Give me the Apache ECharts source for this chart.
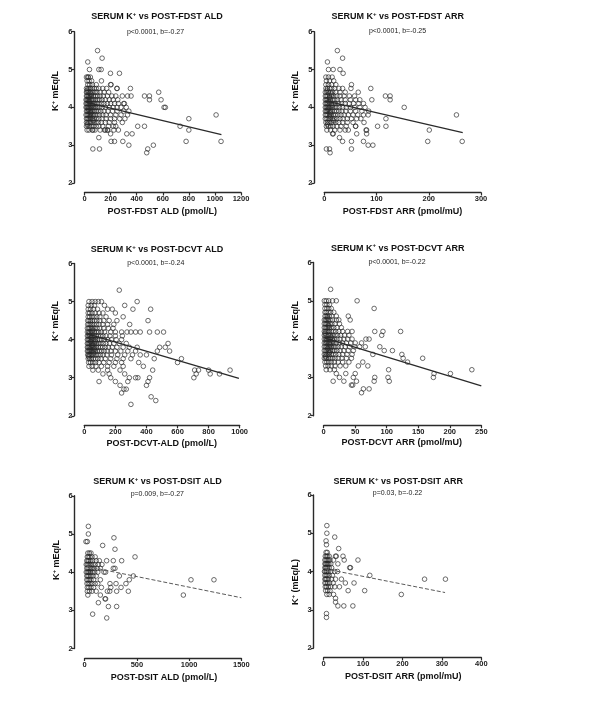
<!DOCTYPE html>
<html><head><meta charset="utf-8">
<script src="https://cdn.jsdelivr.net/npm/echarts@6/dist/echarts.min.js"></script>
<style>html,body{margin:0;padding:0;background:#fff}#c{width:598px;height:705px}</style>
</head><body><div id="c"></div>
<script>
// ---------- DATA ----------
// Each row: [serum K+, [x values at that K+]]
const fdstAldRows = [
  [4.8,[15,25,30,45]],
  [4.7,[20,35,55,130]],
  [4.6,[25,40,60,90,200]],
  [4.5,[15,25,35,45,60,75,90,110,140,170,250]],
  [4.4,[15,20,30,40,50,65,80,95,120,150,185]],
  [4.3,[15,20,28,35,45,55,70,85,100,120,145,175,210,240,290,330]],
  [4.2,[12,18,25,32,40,50,60,72,85,100,115,135,160,190,220,255]],
  [4.1,[12,18,25,32,40,48,58,68,80,95,110,130,150,175,200,230,260,300]],
  [4.0,[12,18,24,30,38,46,55,65,75,88,100,115,135,160,190,220,250,280,320]],
  [3.9,[15,22,30,38,45,55,65,78,90,105,125,150,180,215,250,300,340]],
  [3.8,[12,20,28,36,45,55,68,80,95,115,140,165,200,240,280,330]],
  [3.7,[15,22,30,40,50,62,75,90,110,135,165,200,230,270,310]],
  [3.6,[15,25,35,45,58,72,88,105,130,160,190,230,290]],
  [3.5,[15,28,40,55,70,90,110,140,185,220,240]],
  [3.4,[20,35,60,80,120,160,175,225,260]]
];
const fdstAldOut = [[100,5.5],[135,5.3],[25,5.2],[38,5.0],[110,5.0],[128,5.0],[199,4.9],[268,4.9],[204,4.6],[248,4.5],[352,4.5],[357,4.3],[460,4.3],[498,4.3],[498,4.2],[569,4.4],[587,4.2],[610,4.0],[620,4.0],[306,4.1],[408,3.5],[460,3.5],[324,3.3],[365,3.3],[204,3.1],[230,3.1],[294,3.1],[340,3.0],[528,3.0],[485,2.9],[477,2.8],[64,2.9],[115,2.9],[110,3.2],[779,3.1],[800,3.7],[800,3.4],[733,3.5],[1009,3.8],[1047,3.1],[64,3.4],[153,3.4],[179,3.4],[200,3.3],[20,4.45],[35,4.15],[28,3.95],[42,3.75],[22,3.55],[52,4.35],[60,4.05],[48,3.85],[70,3.65],[33,4.25]];

const fdstArrRows = [
  [4.8,[3,8,15]],
  [4.7,[4,10,18]],
  [4.6,[3,8,14,22]],
  [4.5,[3,6,10,14,20,28,35]],
  [4.4,[2,5,8,12,16,22,30,40]],
  [4.3,[2,4,7,10,14,18,24,30,38,48,58]],
  [4.2,[2,4,6,9,12,16,20,25,32,40,50,60]],
  [4.1,[2,4,6,8,11,14,18,22,27,33,40,48,56,66,75]],
  [4.0,[2,4,6,8,10,13,16,20,24,29,35,42,50,58,68,78]],
  [3.9,[2,4,6,9,12,15,19,23,28,34,41,50,60,72,85]],
  [3.8,[2,4,7,10,13,17,21,26,32,38,46,55,64,75,84]],
  [3.7,[2,5,8,11,15,19,24,30,36,44,52,62,70]],
  [3.6,[3,6,9,13,17,22,28,35,44,55]],
  [3.5,[4,8,12,17,24,32,42,60]],
  [3.4,[5,12,20,30,40,80]],
  [3.3,[16,62]]
];
const fdstArrOut = [[25,5.5],[35,5.3],[6,5.2],[8,5.0],[17,5.0],[30,5.0],[36,4.9],[52,4.6],[51,4.5],[89,4.5],[65,4.4],[68,4.2],[91,4.2],[117,4.3],[126,4.3],[126,4.2],[153,4.0],[102,3.5],[118,3.5],[118,3.7],[253,3.8],[201,3.4],[198,3.1],[264,3.1],[52,3.1],[75,3.1],[35,3.1],[29,3.2],[84,3.0],[93,3.0],[52,2.9],[4,2.9],[10,2.9],[11,2.8],[81,3.3],[81,3.4],[17,3.3],[46,3.4],[60,3.5],[76,3.6],[5,4.45],[9,4.15],[7,3.95],[11,3.75],[6,3.55],[14,4.35],[15,4.05],[12,3.85],[18,3.65],[10,4.25]];

const dcvtAldRows = [
  [5.0,[30,50,70,90,110]],
  [4.9,[25,45,65,130]],
  [4.8,[25,40,60,85,150,180]],
  [4.7,[25,35,50,70,95,120,200]],
  [4.6,[25,35,48,62,80,100,140]],
  [4.5,[22,30,40,52,65,80,100,125,160,210]],
  [4.4,[22,30,40,50,62,78,95,120,150,190]],
  [4.3,[20,28,36,45,55,68,82,100,125,155,185]],
  [4.2,[20,28,36,45,55,66,78,92,110,130,170,200,240,275,300,330,360,420,470,510]],
  [4.1,[20,26,33,40,48,57,67,78,90,105,120,140,165,200,245]],
  [4.0,[20,26,32,39,46,54,63,73,85,98,112,130,150,175,205,240]],
  [3.9,[20,26,32,38,45,52,60,69,80,92,106,122,140,162,190,225,270]],
  [3.8,[20,25,31,37,44,51,59,68,78,90,103,118,135,155,180,210,250,290,340]],
  [3.7,[20,25,31,37,44,52,61,71,83,96,111,128,148,172,200,235,280,330]],
  [3.6,[22,28,35,43,52,62,74,88,104,122,145,175,215,260,310,360]],
  [3.5,[25,35,45,58,72,88,108,135,170,210,250,300]],
  [3.4,[28,40,55,72,95,125,160,200,240]],
  [3.3,[30,50,75,110,150,190,250]],
  [3.2,[55,90,150,230]],
  [3.1,[120,160,260]],
  [3.0,[170,290]]
];
const dcvtAldOut = [[225,5.3],[340,5.0],[260,4.9],[313,4.8],[427,4.8],[250,4.6],[410,4.5],[292,4.4],[539,3.9],[485,3.8],[521,3.8],[549,3.7],[470,3.7],[625,3.5],[600,3.4],[710,3.2],[735,3.2],[720,3.1],[705,3.0],[800,3.2],[810,3.1],[870,3.1],[938,3.2],[240,2.6],[255,2.7],[270,2.7],[300,2.3],[430,2.5],[460,2.4],[400,2.8],[410,2.9],[200,2.9],[230,2.8],[95,2.9],[330,3.0],[345,3.0],[420,3.0],[280,2.9],[380,3.3],[440,3.2],[350,3.4],[400,3.6],[450,3.5],[30,4.15],[40,3.95],[35,3.75],[50,3.85],[45,4.05],[60,3.65],[28,3.55],[55,4.25],[70,3.95],[65,3.75]];

const dcvtArrRows = [
  [5.0,[1,4,8,14]],
  [4.9,[2,5,9]],
  [4.8,[2,5,8,12]],
  [4.7,[2,4,7,11,16]],
  [4.6,[2,4,6,9,13,20]],
  [4.5,[1,3,5,7,10,14,20]],
  [4.4,[1,3,5,7,10,13,18,25]],
  [4.3,[1,3,5,7,9,12,16,21,28]],
  [4.2,[1,3,5,7,9,12,15,19,24,30,38,45]],
  [4.1,[1,3,5,7,9,11,14,18,22,27,33,40]],
  [4.0,[1,3,5,7,9,11,14,17,21,26,32,38,45]],
  [3.9,[1,3,5,7,9,11,13,16,20,25,30,36,43,50]],
  [3.8,[1,3,5,7,9,11,13,16,19,23,28,34,41,49,57]],
  [3.7,[1,3,5,7,9,11,14,17,21,26,32,39,47]],
  [3.6,[1,3,5,7,9,12,15,19,24,30,37,45]],
  [3.5,[1,3,5,8,11,14,18,23,29,36,44]],
  [3.4,[2,5,8,12,17,23,30,40]],
  [3.3,[3,7,12,18,26,35]],
  [3.2,[4,10,17]]
];
const dcvtArrOut = [[11,5.3],[53,5.0],[20,5.0],[80,4.8],[39,4.6],[42,4.5],[24,4.5],[81,4.2],[94,4.2],[92,4.1],[122,4.2],[67,4.0],[72,4.0],[60,3.9],[89,3.8],[96,3.7],[109,3.7],[124,3.6],[126,3.5],[133,3.4],[157,3.5],[175,3.1],[174,3.0],[201,3.1],[235,3.2],[103,3.2],[104,2.9],[102,3.0],[81,3.0],[80,2.9],[47,3.0],[50,3.1],[32,2.9],[15,2.9],[44,2.8],[46,2.8],[60,2.6],[63,2.7],[72,2.7],[55,3.3],[62,3.4],[20,3.1],[25,3.0],[52,2.9],[35,3.1],[78,3.6],[66,3.8],[70,3.3],[2,4.15],[4,3.95],[6,3.75],[8,4.35],[3,3.55],[10,3.85],[12,4.05],[6,4.55],[9,3.65],[15,3.95]];

const dsitAldRows = [
  [4.5,[30,45,60]],
  [4.4,[25,35,50,70,100]],
  [4.3,[20,30,40,55,75,110,140]],
  [4.2,[15,25,35,48,62,80,100,130,165]],
  [4.1,[20,30,42,55,70,90,120,150]],
  [4.0,[15,25,35,45,58,75,95,125,185]],
  [3.9,[20,30,42,58,80,110]],
  [3.8,[20,32,45,60,85,150]],
  [3.7,[22,35,50,70,100,125]],
  [3.6,[25,40,60,85,160]],
  [3.5,[25,45,70,110]],
  [3.4,[30,150]],
  [3.3,[200]]
];
const dsitAldOut = [[35,5.2],[35,5.0],[12,4.8],[25,4.8],[280,4.9],[172,4.7],[290,4.6],[482,4.4],[210,4.3],[274,4.3],[354,4.3],[274,4.1],[290,4.1],[332,3.9],[466,3.9],[1018,3.8],[1238,3.8],[427,3.8],[242,3.7],[300,3.7],[395,3.7],[217,3.5],[306,3.5],[418,3.5],[945,3.4],[195,3.3],[131,3.2],[227,3.1],[306,3.1],[76,2.9],[211,2.8],[250,3.6],[348,3.6],[200,4.0],[240,3.5]];

const dsitArrRows = [
  [4.5,[6,9]],
  [4.4,[4,7,10,14,30]],
  [4.3,[3,6,9,12,16,25]],
  [4.2,[3,5,8,10,13,18,36]],
  [4.1,[3,5,7,10,14,20]],
  [4.0,[2,4,7,9,12,18,28,35]],
  [3.9,[3,6,9,14,22]],
  [3.8,[3,5,8,12,20,30]],
  [3.7,[3,6,10,15,24]],
  [3.6,[4,7,12,18,28]],
  [3.5,[5,10,16]],
  [3.4,[8,14]]
];
const dsitArrOut = [[8,5.2],[8,5.0],[28,4.9],[6,4.8],[7,4.7],[38,4.6],[32,4.4],[49,4.4],[52,4.3],[87,4.3],[66,4.1],[68,4.1],[117,3.9],[77,3.7],[62,3.5],[104,3.5],[197,3.4],[256,3.8],[309,3.8],[36,3.1],[51,3.1],[74,3.1],[30,3.3],[30,3.2],[7,2.9],[7,2.8],[55,3.7],[45,3.8],[40,3.6],[25,3.4]];

// regression line end points [x, K+]
const fdstAldFit = [[15,4.13],[1050,3.28]];
const fdstArrFit = [[2,4.17],[265,3.33]];
const dcvtAldFit = [[20,4.15],[995,2.98]];
const dcvtArrFit = [[1,4.03],[250,2.78]];
const dsitAldFit = [[20,4.15],[1500,3.33]];
const dsitArrFit = [[3,4.07],[308,3.45]];

const panelNames = ['POST-FDST ALD','POST-FDST ARR','POST-DCVT ALD','POST-DCVT ARR','POST-DSIT ALD','POST-DSIT ARR'];
const statTexts = ['p<0.0001, b=-0.27','p<0.0001, b=-0.25','p<0.0001, b=-0.24','p<0.0001, b=-0.22','p=0.009, b=-0.27','p=0.03, b=-0.22'];
const xNames = ['POST-FDST ALD (pmol/L)','POST-FDST ARR (pmol/mU)','POST-DCVT-ALD (pmol/L)','POST-DCVT ARR (pmol/mU)','POST-DSIT ALD (pmol/L)','POST-DSIT ARR (pmol/mU)'];
const yUnits = ['mEq/L','mEq/L','mEq/L','mEq/L','mEq/L','(mEq/L)'];
const xMaxes = [1200,300,1000,250,1500,400];
const xIntervals = [200,100,200,50,500,100];
const yTicks = [2,3,4,5,6];

// ---------- LAYOUT / STYLE ----------
const FONT = "'Liberation Sans', Arial, Helvetica, sans-serif";
const grids = [
  {left:84.5, top:31.7, width:156.5, height:151.3},
  {left:324.3, top:31.7, width:156.7, height:151.3},
  {left:84.3, top:263.5, width:155.4, height:152.3},
  {left:323.7, top:262.5, width:157.6, height:153.2},
  {left:84.7, top:495.8, width:156.6, height:152.7},
  {left:323.7, top:495, width:157.6, height:153}
];
const titlePos = [[157,16.7],[397.8,16.7],[157,250],[397.8,248.3],[157.5,482],[398.3,482]];
const statPos = [[155.5,31.7],[397.5,30.7],[155.8,263.3],[397,262.3],[157.3,494],[397.5,493.3]];
const xNamePos = [[162.3,212],[402.5,212],[161.7,443.3],[401.7,443],[164,677.3],[403.3,677]];
const yNamePos = [[55.7,91],[295.3,91],[55.7,321],[295.3,321],[56.7,560],[295.3,582]];

const rowsList = [fdstAldRows,fdstArrRows,dcvtAldRows,dcvtArrRows,dsitAldRows,dsitArrRows];
const outList = [fdstAldOut,fdstArrOut,dcvtAldOut,dcvtArrOut,dsitAldOut,dsitArrOut];
const fitList = [fdstAldFit,fdstArrFit,dcvtAldFit,dcvtArrFit,dsitAldFit,dsitArrFit];

const AX = '#2a2a2a';
const xAxes = [], yAxes = [], series = [], graphics = [];
for (let i = 0; i < 6; i++) {
  xAxes.push({
    gridIndex:i, type:'value', min:0, max:xMaxes[i], interval:xIntervals[i],
    offset:9.5,
    axisLine:{show:true, onZero:false, lineStyle:{color:AX, width:1.4}},
    axisTick:{show:true, inside:false, length:3, lineStyle:{color:AX, width:1.2}},
    axisLabel:{fontSize:7.5, fontWeight:'bold', color:'#222', margin:2.5, fontFamily:FONT, formatter:v => String(v)},
    splitLine:{show:false}
  });
  yAxes.push({
    gridIndex:i, type:'value', min:yTicks[0], max:yTicks[yTicks.length-1], interval:1,
    offset:10,
    axisLine:{show:true, onZero:false, lineStyle:{color:AX, width:1.4}},
    axisTick:{show:true, inside:false, length:3, lineStyle:{color:AX, width:1.2}},
    axisLabel:{fontSize:7.5, fontWeight:'bold', color:'#222', margin:2, fontFamily:FONT, formatter:v => String(v)},
    splitLine:{show:false}
  });
  const pts = rowsList[i].flatMap(([k, xs]) => xs.map(x => [x, k])).concat(outList[i]);
  series.push({
    type:'scatter', xAxisIndex:i, yAxisIndex:i, data:pts,
    symbol:'circle', symbolSize:4.6,
    itemStyle:{color:'rgba(0,0,0,0)', borderColor:'#262626', borderWidth:0.85},
    emphasis:{disabled:true}, silent:true, z:2
  });
  const dashed = i >= 4;
  series.push({
    type:'line', xAxisIndex:i, yAxisIndex:i, data:fitList[i],
    symbol:'none', showSymbol:false, silent:true, z:3,
    lineStyle:{color: dashed ? '#5a5a5a' : '#2a2a2a', width: dashed ? 1 : 1.3, type: dashed ? [4,2] : 'solid'}
  });
  graphics.push({
    type:'text', x:titlePos[i][0], y:titlePos[i][1], silent:true,
    style:{
      text:'{a|SERUM K}{s|+}{a| vs ' + panelNames[i] + '}',
      align:'center', verticalAlign:'middle',
      rich:{
        a:{fontSize:9, fontWeight:'bold', fontFamily:FONT, fill:'#111', lineHeight:11},
        s:{fontSize:6, fontWeight:'bold', fontFamily:FONT, fill:'#111', verticalAlign:'top', lineHeight:11}
      }
    }
  });
  graphics.push({
    type:'text', x:statPos[i][0], y:statPos[i][1], silent:true,
    style:{text:statTexts[i], align:'center', verticalAlign:'middle', fontSize:7, fontFamily:FONT, fill:'#222'}
  });
  graphics.push({
    type:'text', x:xNamePos[i][0], y:xNamePos[i][1], silent:true,
    style:{text:xNames[i], align:'center', verticalAlign:'middle', fontSize:9, fontWeight:'bold', fontFamily:FONT, fill:'#111'}
  });
  graphics.push({
    type:'text', x:yNamePos[i][0], y:yNamePos[i][1], rotation:Math.PI/2, silent:true,
    style:{
      text:'{a|K}{s|+}{a| ' + yUnits[i] + '}',
      align:'center', verticalAlign:'middle',
      rich:{
        a:{fontSize:9, fontWeight:'bold', fontFamily:FONT, fill:'#111', lineHeight:10},
        s:{fontSize:6, fontWeight:'bold', fontFamily:FONT, fill:'#111', verticalAlign:'top', lineHeight:10}
      }
    }
  });
}

const chart = echarts.init(document.getElementById('c'), null, {renderer:'canvas'});
chart.setOption({
  animation:false,
  backgroundColor:'#fff',
  grid:grids.map(g => Object.assign({containLabel:false}, g)),
  xAxis:xAxes, yAxis:yAxes, series:series, graphic:graphics
});
</script></body></html>
